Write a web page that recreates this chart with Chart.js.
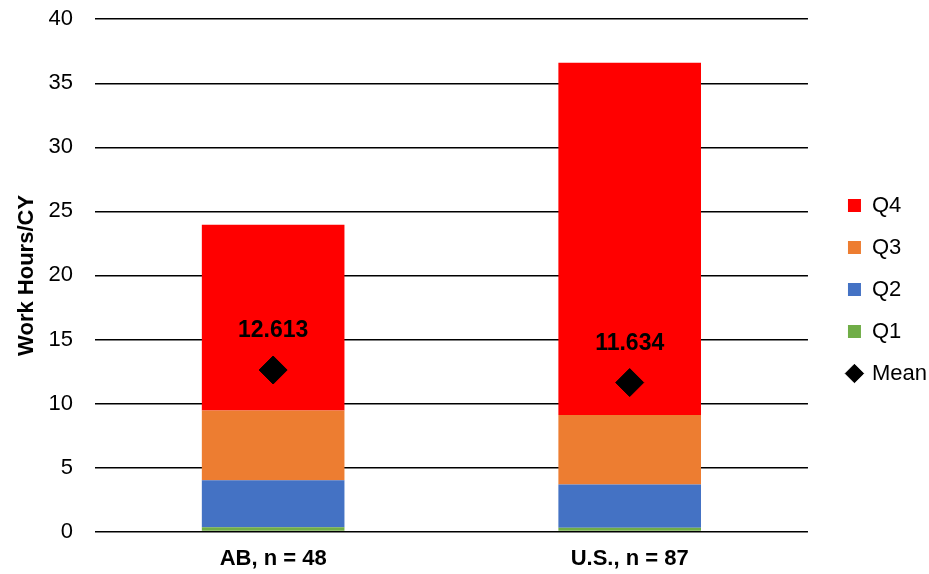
<!DOCTYPE html>
<html>
<head>
<meta charset="utf-8">
<script src="https://cdn.jsdelivr.net/npm/chart.js@4"></script>
<style>
  body { margin: 0; background: #fff; }
  #wrap { width: 929px; height: 574px; }
</style>
</head>
<body>
<div id="wrap"><canvas id="myChart"></canvas></div>
<script>
const categories = ["AB, n = 48", "U.S., n = 87"];
const q1 = [0.34, 0.31];
const q2 = [3.66, 3.36];
const q3 = [5.45, 5.44];
const q4 = [14.5, 27.5];
const means = [12.613, 11.634];

const FONT = "'Liberation Sans', Arial, sans-serif";

// mean value text above diamond
const meanLabels = {
  id: "meanLabels",
  afterDatasetsDraw(chart) {
    const ctx = chart.ctx;
    const meta = chart.getDatasetMeta(4);
    ctx.save();
    ctx.font = "bold 23px " + FONT;
    ctx.fillStyle = "#000";
    ctx.textAlign = "center";
    ctx.textBaseline = "middle";
    meta.data.forEach((pt, i) => {
      ctx.fillText(means[i].toFixed(3), pt.x, pt.y - 39);
    });
    ctx.restore();
  },
};

// push legend a bit right, leaves a wider gap after the plot
const legendShift = {
  id: "legendShift",
  afterLayout(chart) {
    chart.legend.left += 20;
    chart.legend.right += 20;
  },
};

const cht = document.getElementById("myChart");
const chart = new Chart(cht, {
  type: "bar",
  data: {
    labels: categories,
    datasets: [
      { label: "Q1", data: q1, backgroundColor: "#70ad47", stack: "q", pointStyle: "rect", order: 1 },
      { label: "Q2", data: q2, backgroundColor: "#4472c4", stack: "q", pointStyle: "rect", order: 1 },
      { label: "Q3", data: q3, backgroundColor: "#ed7d31", stack: "q", pointStyle: "rect", order: 1 },
      { label: "Q4", data: q4, backgroundColor: "#ff0000", stack: "q", pointStyle: "rect", order: 1 },
      {
        type: "line",
        label: "Mean",
        data: means,
        stack: "mean",
        order: 0,
        showLine: false,
        pointStyle: "rectRot",
        pointRadius: 14,
        pointHoverRadius: 14,
        backgroundColor: "#000",
        borderColor: "#000",
      },
    ],
  },
  options: {
    responsive: true,
    maintainAspectRatio: false,
    animation: false,
    layout: { autoPadding: false, padding: { top: 1, right: 12, bottom: -4, left: 8 } },
    datasets: {
      bar: { categoryPercentage: 0.4, barPercentage: 1 },
    },
    scales: {
      x: {
        stacked: true,
        grid: { display: false },
        border: { display: false },
        ticks: {
          color: "#000",
          padding: 6,
          font: { family: FONT, size: 22, weight: "bold" },
        },
      },
      y: {
        stacked: true,
        min: 0,
        max: 40,
        ticks: {
          stepSize: 5,
          color: "#000",
          padding: 6,
          font: { family: FONT, size: 22 },
        },
        grid: {
          color: "#000",
          lineWidth: 1.5,
          drawTicks: true,
          tickLength: 16,
          tickColor: "rgba(0,0,0,0)",
        },
        border: { display: false },
        title: {
          display: true,
          text: "Work Hours/CY",
          color: "#000",
          padding: { top: 6, bottom: 2 },
          font: { family: FONT, size: 22, weight: "bold" },
        },
      },
    },
    plugins: {
      legend: {
        position: "right",
        labels: {
          usePointStyle: true,
          boxWidth: 13,
          boxHeight: 13,
          padding: 20,
          color: "#000",
          font: { family: FONT, size: 22 },
          sort: (a, b) => {
            const k = (it) => (it.datasetIndex === 4 ? 99 : -it.datasetIndex);
            return k(a) - k(b);
          },
        },
      },
      tooltip: { enabled: false },
    },
  },
  plugins: [meanLabels, legendShift],
});
</script>
</body>
</html>
